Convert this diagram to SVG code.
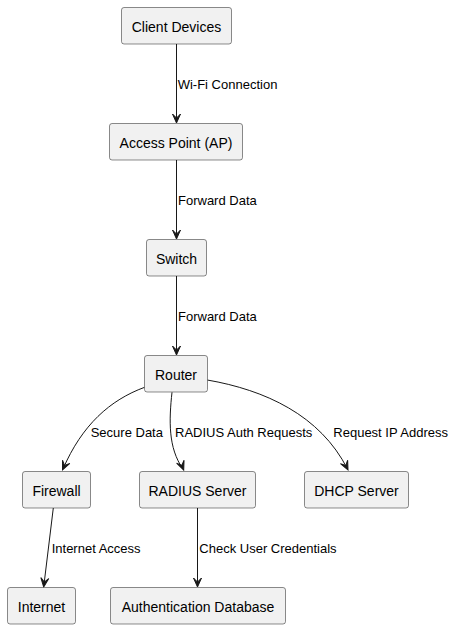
<svg xmlns="http://www.w3.org/2000/svg" width="456" height="629" viewBox="0 0 456 629">
<style>
.n rect{fill:#F1F1F1;stroke:#181818;stroke-width:0.5}
.n text{font-family:"Liberation Sans",Arial,sans-serif;font-size:14px;fill:#000;text-anchor:middle}
.c path{fill:none;stroke:#181818;stroke-width:1}
.c polygon{fill:#181818;stroke:#181818;stroke-width:1}
.lbl{font-family:"Liberation Sans",Arial,sans-serif;font-size:13px;fill:#000}
</style>
<defs>
<polygon id="ah" points="-4,-9 0,0 4,-9 0,-5"/>
</defs>
<rect width="456" height="629" fill="#FFFFFF"/>
<g id="connectors" class="c">
<path d="M176.5,44 L176.5,122"/>
<use href="#ah" x="176.5" y="123" fill="#181818" stroke="#181818"/>
<path d="M176.5,160 L176.5,238"/>
<use href="#ah" x="176.5" y="239" fill="#181818" stroke="#181818"/>
<path d="M176.5,276 L176.5,354"/>
<use href="#ah" x="176.5" y="355" fill="#181818" stroke="#181818"/>
<path d="M144.6,387.3 C110,400 82,425 63,469"/>
<polygon points="-4,-9 0,0 4,-9 0,-5" transform="translate(62.5,470) rotate(24)"/>
<path d="M172,392.3 C169,420 168,448 183,469"/>
<polygon points="-4,-9 0,0 4,-9 0,-5" transform="translate(183.7,470) rotate(-22)"/>
<path d="M207.3,380 C265,390 320,415 347.5,469"/>
<polygon points="-4,-9 0,0 4,-9 0,-5" transform="translate(348,470) rotate(-26)"/>
<path d="M53.3,508 L43.8,586"/>
<polygon points="-4,-9 0,0 4,-9 0,-5" transform="translate(43.7,587) rotate(7)"/>
<path d="M197.5,508 L197.5,586"/>
<use href="#ah" x="197.5" y="587" fill="#181818" stroke="#181818"/>
<text class="lbl" x="177.7" y="88.5">Wi-Fi Connection</text>
<text class="lbl" x="178" y="204.8">Forward Data</text>
<text class="lbl" x="178" y="320.8">Forward Data</text>
<text class="lbl" x="90.7" y="437">Secure Data</text>
<text class="lbl" x="175" y="437">RADIUS Auth Requests</text>
<text class="lbl" x="333.3" y="437">Request IP Address</text>
<text class="lbl" x="51.7" y="553">Internet Access</text>
<text class="lbl" x="199.3" y="553">Check User Credentials</text>
</g>
<g id="client" class="n"><rect x="121.5" y="7.5" width="110" height="36.5" rx="2.5"/><text x="176.5" y="31.5">Client Devices</text></g>
<g id="ap" class="n"><rect x="109.5" y="123.5" width="133" height="36.5" rx="2.5"/><text x="176" y="147.5">Access Point (AP)</text></g>
<g id="switch" class="n"><rect x="146.5" y="239.5" width="60" height="36.5" rx="2.5"/><text x="176.5" y="263.5">Switch</text></g>
<g id="router" class="n"><rect x="144.5" y="355.5" width="63" height="36.5" rx="2.5"/><text x="176" y="379.7">Router</text></g>
<g id="firewall" class="n"><rect x="22.5" y="471.5" width="68" height="36.5" rx="2.5"/><text x="56.5" y="495.5">Firewall</text></g>
<g id="radius" class="n"><rect x="139.5" y="471.5" width="116" height="36.5" rx="2.5"/><text x="197.5" y="495.5">RADIUS Server</text></g>
<g id="dhcp" class="n"><rect x="304.5" y="471.5" width="104" height="36.5" rx="2.5"/><text x="356.5" y="495.5">DHCP Server</text></g>
<g id="internet" class="n"><rect x="7.5" y="587.5" width="68" height="36.5" rx="2.5"/><text x="41.5" y="611.5">Internet</text></g>
<g id="authdb" class="n"><rect x="110.5" y="587.5" width="175" height="36.5" rx="2.5"/><text x="198" y="611.5">Authentication Database</text></g>
</svg>
